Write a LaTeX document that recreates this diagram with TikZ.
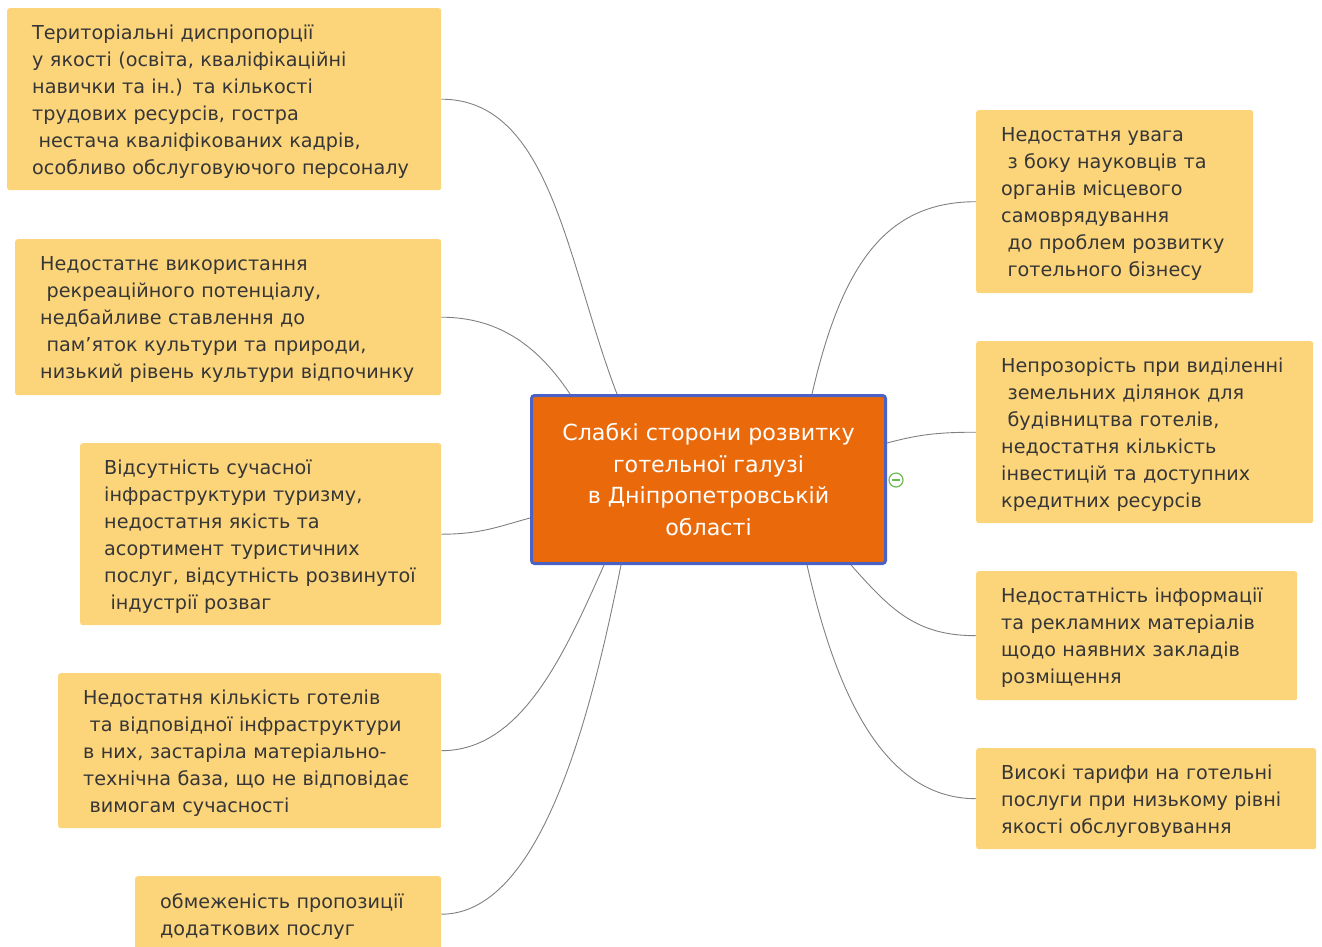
\documentclass[tikz,border=0pt]{standalone}
\usepackage{fontspec}
\setmainfont{DejaVu Sans}
\definecolor{note}{HTML}{FCD57B}
\definecolor{hubfill}{HTML}{EA6A0B}
\definecolor{hubline}{HTML}{4A62C6}
\definecolor{ink}{HTML}{363636}
\definecolor{wire}{HTML}{808080}
\definecolor{knob}{HTML}{6DBB4F}
\tikzset{
	cause/.style={rectangle, rounded corners=2.5pt, fill=note, text=ink, align=left,
		inner xsep=25pt, inner ysep=0pt, font=\fontsize{19.2}{27}\selectfont,
		execute at begin node={\rule{0pt}{21pt}},
		execute at end node={\rule[-6pt]{0pt}{6pt}}},
	hub/.style={rectangle, rounded corners=3pt, fill=hubfill, draw=hubline, line width=3pt,
		text=white, align=center, minimum width=354pt, minimum height=168pt,
		font=\fontsize{22.2}{31.5}\selectfont},
	link/.style={wire, line width=0.9pt},
}

\begin{document}
\begin{tikzpicture}[x=1pt, y=-1pt]
		\clip (0,0) rectangle (1322,946);
		% centre
		\node [hub] (weak) at (708.5,479.5) {Слабкі сторони розвитку\\готельної галузі\\в Дніпропетровській\\області};
		\node [circle, draw=knob, line width=1.2pt, fill=white, minimum size=14pt, inner sep=0pt] (fold) at (896,480) {};
		\draw [knob, line width=1.5pt] ([xshift=-4pt]fold.center)--([xshift=4pt]fold.center);
		
		% left side
		\node [cause, anchor=north west, text width=384pt, minimum height=182pt] (staff) at (7,8)
			{Територіальні диспропорції\\у якості (освіта, кваліфікаційні\\навички та ін.) та кількості\\трудових ресурсів, гостра\\\ нестача кваліфікованих кадрів,\\особливо обслуговуючого персоналу};
		\node [cause, anchor=north west, text width=376pt, minimum height=156pt] (leisure) at (15,239)
			{Недостатнє використання\\\ рекреаційного потенціалу,\\недбайливе ставлення до\\\ пам’яток культури та природи,\\низький рівень культури відпочинку};
		\node [cause, anchor=north west, text width=313pt, inner xsep=24pt, minimum height=182pt] (infra) at (80,443)
			{Відсутність сучасної\\інфраструктури туризму,\\недостатня якість та\\асортимент туристичних\\послуг, відсутність розвинутої\\\ індустрії розваг};
		\node [cause, anchor=north west, text width=333pt, minimum height=155pt] (hotels) at (58,673)
			{Недостатня кількість готелів\\\ та відповідної інфраструктури\\в них, застаріла матеріально-\\технічна база, що не відповідає\\\ вимогам сучасності};
		\node [cause, anchor=north west, text width=256pt, minimum height=76pt] (extra) at (135,876)
			{обмеженість пропозиції\\додаткових послуг};
		
		% right side
		\node [cause, anchor=north west, text width=227pt, minimum height=183pt] (science) at (976,110)
			{Недостатня увага\\\ з боку науковців та\\органів місцевого\\самоврядування\\\ до проблем розвитку\\\ готельного бізнесу};
		\node [cause, anchor=north west, text width=287pt, minimum height=182pt] (land) at (976,341)
			{Непрозорість при виділенні\\\ земельних ділянок для\\\ будівництва готелів,\\недостатня кількість\\інвестицій та доступних\\кредитних ресурсів};
		\node [cause, anchor=north west, text width=271pt, minimum height=129pt] (info) at (976,571)
			{Недостатність інформації\\та рекламних матеріалів\\щодо наявних закладів\\розміщення};
		\node [cause, anchor=north west, text width=290pt, minimum height=101pt] (price) at (976,748)
			{Високі тарифи на готельні\\послуги при низькому рівні\\якості обслуговування};
		
		% branches
		\draw [link] (staff.east) .. controls +(110,0) and +(-50,-130) .. ([xshift=-91.5pt]weak.north);
		\draw [link] (leisure.east) .. controls +(60,0) and +(-30,-45) .. ([xshift=-138.5pt]weak.north);
		\draw [link] (infra.east) .. controls +(40,0) and +(-30,8) .. ([yshift=-38.5pt]weak.west);
		\draw [link] (hotels.east) .. controls +(80,0) and +(-40,90) .. ([xshift=-104.5pt]weak.south);
		\draw [link] (extra.east) .. controls +(100,0) and +(-30,150) .. ([xshift=-87.5pt]weak.south);
		\draw [link] (science.west) .. controls +(-90,0) and +(30,-130) .. ([xshift=103.5pt]weak.north);
		\draw [link] (land.west) .. controls +(-40,0) and +(30,-8) .. ([yshift=36.5pt]weak.east);
		\draw [link] (info.west) .. controls +(-60,0) and +(40,45) .. ([xshift=142.5pt]weak.south);
		\draw [link] (price.west) .. controls +(-100,0) and +(25,110) .. ([xshift=98.5pt]weak.south);
	\end{tikzpicture}
\end{document}
